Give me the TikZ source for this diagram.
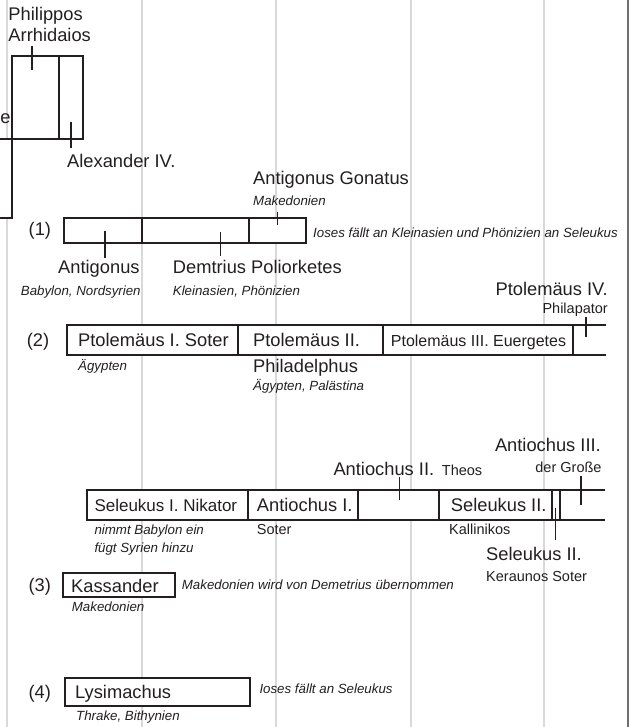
\documentclass[tikz,border=0pt]{standalone}
\usepackage{fontspec}
\setmainfont{Liberation Sans}
\definecolor{gridgray}{HTML}{D9D9D9}
\definecolor{edgegray}{HTML}{6E6E6E}
\definecolor{ink}{HTML}{231F20}
\begin{document}
\begin{tikzpicture}[x=1pt, y=-1pt,
        big/.style={font=\fontsize{18.3}{21}\selectfont, inner sep=0pt, text=ink, anchor=base west},
        mid/.style={font=\fontsize{14.5}{17}\selectfont, inner sep=0pt, text=ink, anchor=base west},
        note/.style={font=\fontsize{13.3}{15}\selectfont\itshape, inner sep=0pt, text=ink, anchor=base west},
        reign/.style={draw=ink, line width=2pt, fill=white},
        cut/.style={draw=ink, line width=2pt},
        tick/.style={draw=ink, line width=1.2pt},
        era/.style={draw=gridgray, line width=2.5pt}]
    \useasboundingbox (0,0) rectangle (629,727);
    \foreach \x in {7,142,276,411,544}
        \draw[era] (\x,0) -- (\x,727);
    \fill[edgegray] (626.5,0) rectangle (629,727);
    \draw[reign] (-5,139) rectangle (12,218);
    \draw[reign] (12,56) rectangle (83,139);
    \draw[cut] (58.5,56) -- (58.5,139);
    \draw[reign] (64,218.3) rectangle (306,243.3);
    \foreach \x in {141.7,249}
        \draw[cut] (\x,218.3) -- (\x,243.3);
    \fill[white] (66.7,325) rectangle (606,355);
    \draw[cut] (606,325) -- (66.7,325) -- (66.7,355) -- (606,355);
    \foreach \x in {238,383.3,572.7}
        \draw[cut] (\x,325) -- (\x,355);
    \fill[white] (86.7,490) rectangle (605,520);
    \draw[cut] (605,490) -- (86.7,490) -- (86.7,520) -- (605,520);
    \foreach \x in {248.3,358.3,439.3,551.7,560}
        \draw[cut] (\x,490) -- (\x,520);
    \draw[reign] (63.3,573.3) rectangle (175,596.7);
    \draw[reign] (65,678.3) rectangle (250,706);
    \draw[tick] (32,46) -- (32,70);
    \draw[tick] (71,122) -- (71,148);
    \draw[tick] (105,230.7) -- (105,258);
    \draw[tick] (220.7,232) -- (220.7,256);
    \draw[tick] (277.7,211.7) -- (277.7,225);
    \draw[tick] (586,317) -- (586,336.7);
    \draw[tick] (399.3,476.7) -- (399.3,500);
    \draw[tick] (555.7,508) -- (555.7,540);
    \draw[tick] (581,476) -- (581,505);
    \node[big] (philippos) at (8.3,21) {Philippos};
    \node[big] (arrhidaios) at (8.3,41.7) {Arrhidaios};
    \node[big] (grosse) at (0.3,123.3) {e};
    \node[big] (alexander) at (67,167.7) {Alexander IV.};
    \node[big] (gonatus) at (253,185) {Antigonus Gonatus};
    \node[note] (gonatusland) at (253,206) {Makedonien};
    \node[big] (row1) at (28.5,236) {(1)};
    \node[note] (row1note) at (313,237.5) {Ioses fällt an Kleinasien und Phönizien an Seleukus};
    \node[big] (antigonus) at (58,273.3) {Antigonus};
    \node[note] (antigonusland) at (20.7,295) {Babylon, Nordsyrien};
    \node[big] (demetrius) at (172.7,273.3) {Demtrius Poliorketes};
    \node[note] (demetriusland) at (172.7,295) {Kleinasien, Phönizien};
    \node[big, anchor=base east] (ptolemy4) at (608,295) {Ptolemäus IV.};
    \node[mid, anchor=base east] (ptolemy4name) at (608,313.3) {Philapator};
    \node[big] (row2) at (26.7,346.7) {(2)};
    \node[big] (ptolemy1) at (78,346.7) {Ptolemäus I. Soter};
    \node[note] (ptolemy1land) at (78,370) {Ägypten};
    \node[big] (ptolemy2) at (253,346.7) {Ptolemäus II.};
    \node[big] (ptolemy2name) at (253,372.7) {Philadelphus};
    \node[note] (ptolemy2land) at (253,390.7) {Ägypten, Palästina};
    \node[big, font=\fontsize{16}{18}\selectfont] (ptolemy3) at (390.7,346.7) {Ptolemäus III. Euergetes};
    \node[big, anchor=base east] (antiochus3) at (601,451.7) {Antiochus III.};
    \node[mid, anchor=base east] (antiochus3name) at (601.7,472.3) {der Große};
    \node[big] (antiochus2) at (333.3,475) {Antiochus II.};
    \node[mid] (antiochus2name) at (441.7,475) {Theos};
    \node[big, font=\fontsize{17}{20}\selectfont] (seleucus1) at (94.3,511) {Seleukus I. Nikator};
    \node[note] (seleucus1a) at (94.3,534) {nimmt Babylon ein};
    \node[note] (seleucus1b) at (94.3,552.7) {fügt Syrien hinzu};
    \node[big] (antiochus1) at (256.7,511) {Antiochus I.};
    \node[mid] (antiochus1name) at (256.7,534.3) {Soter};
    \node[big] (seleucus2) at (450.7,511) {Seleukus II.};
    \node[mid] (seleucus2name) at (449,534.3) {Kallinikos};
    \node[big] (seleucus3) at (486,560) {Seleukus II.};
    \node[mid] (seleucus3name) at (486,581.7) {Keraunos Soter};
    \node[big] (row3) at (28.3,591.7) {(3)};
    \node[big] (kassander) at (71,592.3) {Kassander};
    \node[note] (kassanderland) at (71.7,611.7) {Makedonien};
    \node[note] (row3note) at (181.7,589) {Makedonien wird von Demetrius übernommen};
    \node[big] (row4) at (28.3,698.3) {(4)};
    \node[big] (lysimachus) at (75,698.3) {Lysimachus};
    \node[note] (lysimachusland) at (76,720.7) {Thrake, Bithynien};
    \node[note] (row4note) at (259.3,693.3) {Ioses fällt an Seleukus};
\end{tikzpicture}
\end{document}
